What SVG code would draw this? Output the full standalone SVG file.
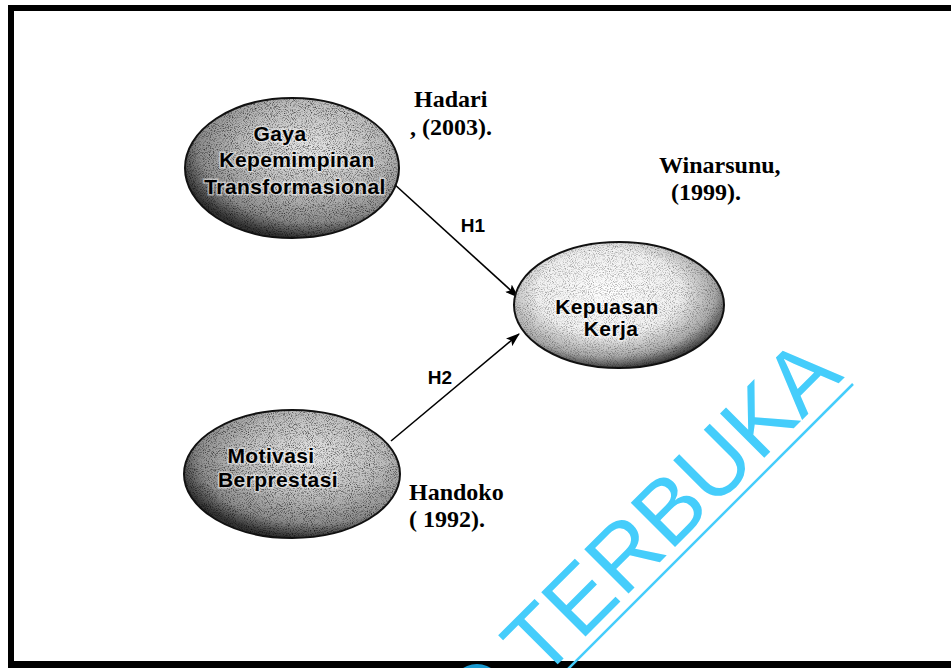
<svg xmlns="http://www.w3.org/2000/svg" width="951" height="668" viewBox="0 0 951 668">
  <style>
    .node-text { font-family: "Liberation Sans", Arial, sans-serif; font-weight: bold; font-size: 21px; letter-spacing: 0.4px; fill: #000; text-anchor: middle; stroke: #fff; stroke-width: 3px; stroke-opacity: 0.5; paint-order: stroke; }
    .ref { font-family: "Liberation Serif", "Times New Roman", serif; font-weight: bold; font-size: 24px; fill: #000; }
    .hlabel { font-family: "Liberation Sans", Arial, sans-serif; font-weight: bold; font-size: 19px; fill: #000; text-anchor: middle; }
    .edge { stroke: #000; stroke-width: 1.6; fill: none; marker-end: url(#arrow); }
    .ell-edge { fill: none; stroke: #111; stroke-width: 2; }
    .wm { font-family: "Liberation Sans", Arial, sans-serif; font-size: 91px; fill: #45CDFB; }
  </style>
  <defs>
    <marker id="arrow" viewBox="0 0 14 10" refX="13" refY="5" markerWidth="14" markerHeight="10" markerUnits="userSpaceOnUse" orient="auto">
      <path d="M0,0 L14,5 L0,10 L3,5 Z" fill="#000"/>
    </marker>
    <radialGradient id="gDark" cx="0.6" cy="0.35" r="0.65">
      <stop offset="0" stop-color="#e4e4e4"/>
      <stop offset="0.5" stop-color="#bebebe"/>
      <stop offset="0.82" stop-color="#8e8e8e"/>
      <stop offset="1" stop-color="#333"/>
    </radialGradient>
    <radialGradient id="gLight" cx="0.45" cy="0.4" r="0.62">
      <stop offset="0" stop-color="#ffffff"/>
      <stop offset="0.55" stop-color="#f0f0f0"/>
      <stop offset="0.82" stop-color="#aaaaaa"/>
      <stop offset="1" stop-color="#2a2a2a"/>
    </radialGradient>
    <filter id="grain" x="0" y="0" width="1" height="1">
      <feTurbulence type="fractalNoise" baseFrequency="0.95" numOctaves="2" seed="7" result="n"/>
      <feColorMatrix in="n" type="matrix" values="0 0 0 0 0  0 0 0 0 0  0 0 0 0 0  1.8 0 0 0 -0.85" result="dots"/>
      <feComposite in="dots" in2="SourceGraphic" operator="in"/>
    </filter>
  </defs>

  <rect x="0" y="0" width="951" height="668" fill="#fff"/>

  <!-- frame -->
  <g id="frame" fill="#000">
    <rect x="8" y="5" width="943" height="6"/>
    <rect x="8" y="5" width="6" height="663"/>
    <rect x="8" y="661" width="943" height="7"/>
  </g>

  <!-- watermark -->
  <g id="watermark">
    <circle cx="477" cy="690" r="26" fill="#1a9ad0"/>
    <text class="wm" x="541" y="681" transform="rotate(-45 541 681)">TERBUKA</text>
    <line x1="853" y1="384" x2="540" y2="697" stroke="#45CDFB" stroke-width="2.5"/>
  </g>

  <!-- connectors -->
  <g id="connectors">
    <line class="edge" x1="393" y1="183" x2="518" y2="297"/>
    <line class="edge" x1="391" y1="441" x2="519" y2="334"/>
    <text class="hlabel" x="473" y="232">H1</text>
    <text class="hlabel" x="440" y="384">H2</text>
  </g>

  <g id="node-gaya">
    <ellipse cx="292" cy="168" rx="107" ry="70" fill="url(#gDark)"/>
    <ellipse cx="292" cy="168" rx="107" ry="70" fill="#fff" filter="url(#grain)"/>
    <ellipse class="ell-edge" cx="292" cy="168" rx="107" ry="70"/>
    <text class="node-text" x="280" y="141">Gaya</text>
    <text class="node-text" x="297" y="167">Kepemimpinan</text>
    <text class="node-text" x="295" y="194">Transformasional</text>
  </g>

  <g id="node-motivasi">
    <ellipse cx="292" cy="474" rx="108" ry="64" fill="url(#gDark)"/>
    <ellipse cx="292" cy="474" rx="108" ry="64" fill="#fff" filter="url(#grain)"/>
    <ellipse class="ell-edge" cx="292" cy="474" rx="108" ry="64"/>
    <text class="node-text" x="271" y="463">Motivasi</text>
    <text class="node-text" x="278" y="487">Berprestasi</text>
  </g>

  <g id="node-kepuasan">
    <ellipse cx="619" cy="305" rx="105" ry="63" fill="url(#gLight)"/>
    <ellipse cx="619" cy="305" rx="105" ry="63" fill="#fff" filter="url(#grain)" opacity="0.6"/>
    <ellipse class="ell-edge" cx="619" cy="305" rx="105" ry="63"/>
    <text class="node-text" x="607" y="314">Kepuasan</text>
    <text class="node-text" x="611" y="336">Kerja</text>
  </g>

  <g id="references">
    <text class="ref" x="414" y="107">Hadari</text>
    <text class="ref" x="410" y="135">, (2003).</text>
    <text class="ref" x="659" y="173">Winarsunu,</text>
    <text class="ref" x="671" y="200">(1999).</text>
    <text class="ref" x="409" y="500">Handoko</text>
    <text class="ref" x="409" y="527">( 1992).</text>
  </g>
</svg>
